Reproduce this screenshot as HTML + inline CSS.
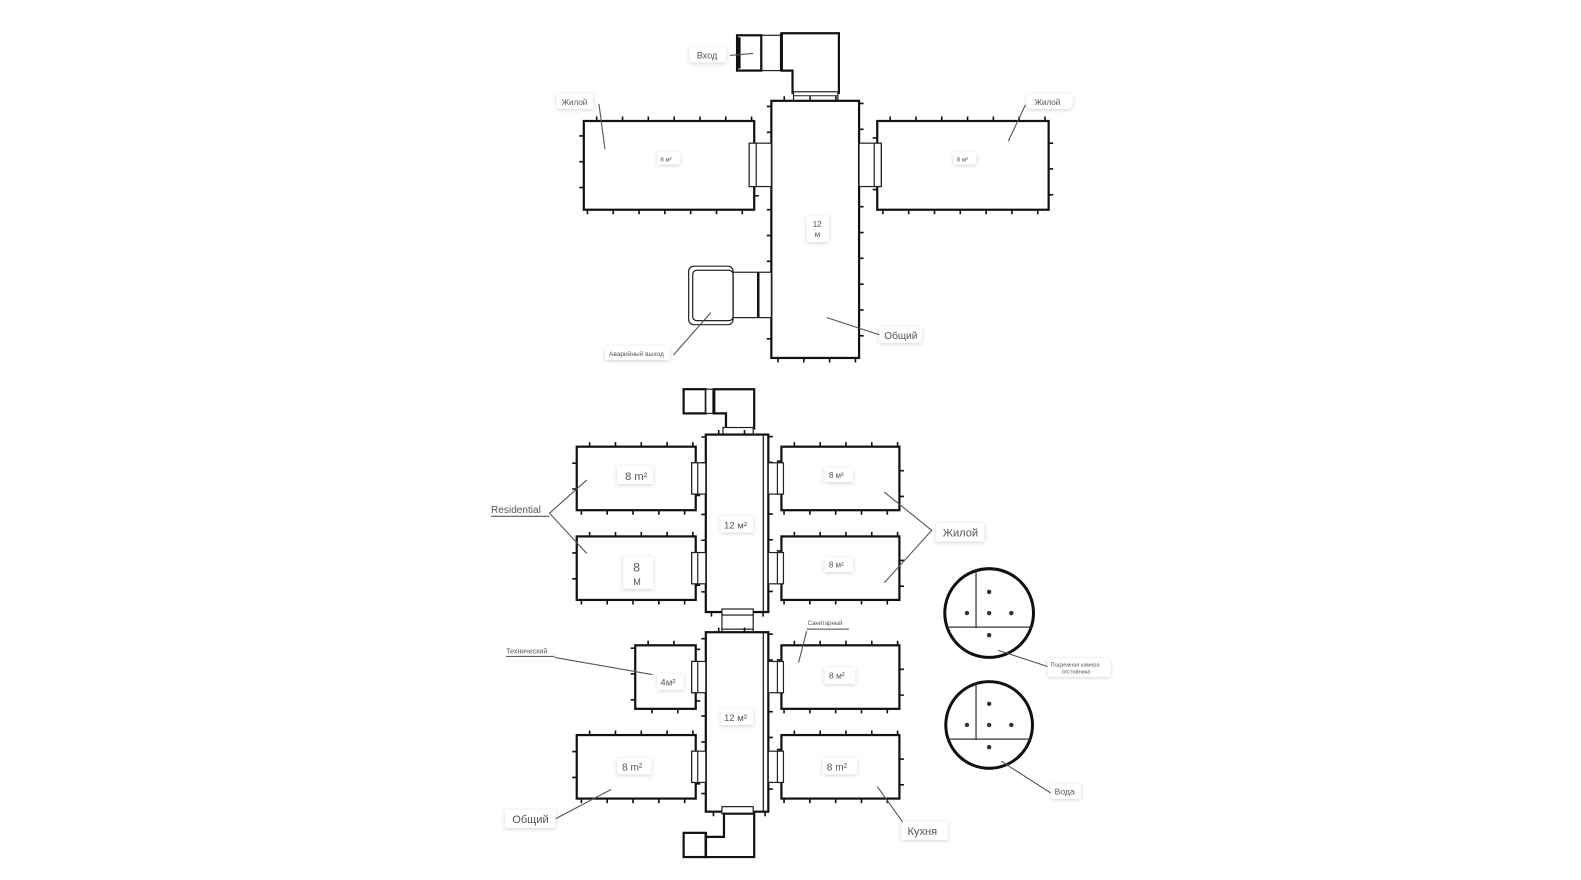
<!DOCTYPE html>
<html><head><meta charset="utf-8"><style>
html,body{margin:0;padding:0;background:#fff;}
svg{display:block;}
text{font-family:"Liberation Sans","DejaVu Sans",sans-serif;fill:#555;}
.w{fill:#fff;stroke:#111;stroke-width:2.2;}
.t{fill:none;stroke:#111;stroke-width:9;stroke-dasharray:1.6 24;stroke-dashoffset:-12;}
.d{fill:#fff;stroke:#222;stroke-width:1.2;}
.l{stroke:#555;stroke-width:1.1;fill:none;}
.lb{fill:#fff;filter:url(#sh);}
</style></head><body>
<svg width="1581" height="880" viewBox="0 0 1581 880" xmlns="http://www.w3.org/2000/svg">
<defs><filter id="sh" x="-30%" y="-50%" width="160%" height="200%"><feDropShadow dx="0" dy="1" stdDeviation="2" flood-color="#000" flood-opacity="0.18"/></filter></defs>
<g transform="scale(1.0083)">

<!-- ===== TOP PLAN ===== -->
<rect class="d" x="755" y="35" width="20" height="35"/>
<rect class="w" x="731" y="35" width="24" height="35"/>
<line x1="733" y1="37" x2="733" y2="68" stroke="#111" stroke-width="3"/>
<polygon class="w" points="775,33 832,33 832,92 786,92 786,70 775,70"/>
<line x1="775" y1="33" x2="775" y2="70" stroke="#111" stroke-width="3"/>
<rect class="d" x="787" y="91" width="44" height="10"/>
<line x1="787" y1="95" x2="831" y2="95" stroke="#222" stroke-width="1"/>
<rect class="t" x="765" y="100" width="87" height="255"/>
<rect class="w" x="765" y="100" width="87" height="255"/>
<rect class="t" x="579" y="120" width="169" height="88"/>
<rect class="w" x="579" y="120" width="169" height="88"/>
<rect class="d" x="743" y="142" width="22" height="43"/>
<rect class="d" x="743" y="142" width="7" height="43" stroke-width="2"/>
<rect class="t" x="870" y="120" width="170" height="88"/>
<rect class="w" x="870" y="120" width="170" height="88"/>
<rect class="d" x="852" y="142" width="22" height="43"/>
<rect class="d" x="867" y="142" width="7" height="43" stroke-width="2"/>
<rect class="d" x="727" y="270" width="38" height="45"/>
<line x1="752" y1="270" x2="752" y2="315" stroke="#111" stroke-width="2.5"/>
<rect class="d" x="683" y="264" width="44" height="58" rx="5"/>
<rect class="d" x="687" y="268" width="40" height="50" rx="4"/>

<line class="l" x1="724" y1="55" x2="747" y2="53"/>
<rect class="lb" x="684" y="47" width="36" height="15" rx="2"/>
<text x="691" y="58" font-size="9">Вход</text>
<line class="l" x1="594" y1="103" x2="600" y2="148"/>
<rect class="lb" x="552" y="93" width="36" height="15" rx="2"/>
<text x="557" y="104" font-size="8">Жилой</text>
<line class="l" x1="1017" y1="104" x2="1000" y2="140"/>
<rect class="lb" x="1018" y="93" width="46" height="15" rx="6"/>
<text x="1026" y="104" font-size="8">Жилой</text>
<rect class="lb" x="652" y="151" width="22" height="12"/>
<text x="655" y="160" font-size="6">8 м²</text>
<rect class="lb" x="946" y="151" width="22" height="12"/>
<text x="949" y="160" font-size="6">8 м²</text>
<rect class="lb" x="800" y="214" width="22" height="26"/>
<text x="806" y="225" font-size="8">12</text>
<text x="808" y="235" font-size="8">м</text>
<line class="l" x1="820" y1="315" x2="872" y2="332"/>
<rect class="lb" x="872" y="324" width="42" height="16" rx="2"/>
<text x="877" y="336" font-size="10">Общий</text>
<line class="l" x1="705" y1="310" x2="668" y2="352"/>
<rect class="lb" x="600" y="343" width="64" height="14" rx="2"/>
<text x="604" y="353" font-size="6.5">Аварийный выход</text>

<!-- ===== BOTTOM PLAN ===== -->
<rect class="w" x="678" y="386" width="22" height="24"/>
<rect class="d" x="700" y="386" width="8" height="24"/>
<polygon class="w" points="708,386 748,386 748,425 720,425 720,410 708,410"/>
<line x1="708" y1="386" x2="708" y2="410" stroke="#111" stroke-width="3"/>
<rect class="d" x="717" y="424" width="30" height="8" stroke-width="2"/>
<rect class="t" x="700" y="431" width="62" height="176"/>
<rect class="w" x="700" y="431" width="62" height="176"/>
<line x1="757" y1="432" x2="757" y2="606" stroke="#111" stroke-width="1.2"/>
<rect class="d" x="716" y="607" width="31" height="20"/>
<rect class="d" x="716" y="604" width="31" height="6" stroke-width="2"/>
<rect class="d" x="716" y="624" width="31" height="6" stroke-width="2"/>
<rect class="t" x="700" y="627" width="62" height="178"/>
<rect class="w" x="700" y="627" width="62" height="178"/>
<line x1="757" y1="628" x2="757" y2="804" stroke="#111" stroke-width="1.2"/>
<rect class="d" x="716" y="800" width="31" height="7" stroke-width="2"/>
<polygon class="w" points="718,807 748,807 748,850 700,850 700,830 718,830"/>
<rect class="w" x="678" y="826" width="22" height="24"/>
<line x1="700" y1="826" x2="700" y2="850" stroke="#111" stroke-width="2.5"/>

<g>
<rect class="t" x="572" y="443" width="118" height="63"/><rect class="w" x="572" y="443" width="118" height="63"/>
<rect class="t" x="572" y="532" width="118" height="63"/><rect class="w" x="572" y="532" width="118" height="63"/>
<rect class="t" x="630" y="640" width="60" height="63"/><rect class="w" x="630" y="640" width="60" height="63"/>
<rect class="t" x="572" y="729" width="118" height="63"/><rect class="w" x="572" y="729" width="118" height="63"/>
</g>
<g>
<rect class="t" x="775" y="443" width="117" height="63"/><rect class="w" x="775" y="443" width="117" height="63"/>
<rect class="t" x="775" y="532" width="117" height="63"/><rect class="w" x="775" y="532" width="117" height="63"/>
<rect class="t" x="775" y="640" width="117" height="63"/><rect class="w" x="775" y="640" width="117" height="63"/>
<rect class="t" x="775" y="729" width="117" height="63"/><rect class="w" x="775" y="729" width="117" height="63"/>
</g>
<g>
<rect class="d" x="686" y="459" width="14" height="31"/><rect class="d" x="686" y="459" width="6" height="31" stroke-width="2"/>
<rect class="d" x="686" y="548" width="14" height="31"/><rect class="d" x="686" y="548" width="6" height="31" stroke-width="2"/>
<rect class="d" x="686" y="656" width="14" height="31"/><rect class="d" x="686" y="656" width="6" height="31" stroke-width="2"/>
<rect class="d" x="686" y="745" width="14" height="31"/><rect class="d" x="686" y="745" width="6" height="31" stroke-width="2"/>
<rect class="d" x="762" y="459" width="14" height="31"/><rect class="d" x="771" y="459" width="6" height="31" stroke-width="2"/>
<rect class="d" x="762" y="548" width="14" height="31"/><rect class="d" x="771" y="548" width="6" height="31" stroke-width="2"/>
<rect class="d" x="762" y="656" width="14" height="31"/><rect class="d" x="771" y="656" width="6" height="31" stroke-width="2"/>
<rect class="d" x="762" y="745" width="14" height="31"/><rect class="d" x="771" y="745" width="6" height="31" stroke-width="2"/>
</g>

<g>
<circle cx="981" cy="608" r="44" fill="#fff" stroke="#111" stroke-width="3"/>
<line x1="968" y1="565" x2="968" y2="623" stroke="#333" stroke-width="1.2"/>
<line x1="939" y1="622" x2="1023" y2="622" stroke="#333" stroke-width="1.2"/>
<circle cx="981" cy="587" r="2.2" fill="#333"/><circle cx="959" cy="608" r="2.2" fill="#333"/>
<circle cx="981" cy="608" r="2.2" fill="#333"/><circle cx="1003" cy="608" r="2.2" fill="#333"/>
<circle cx="981" cy="630" r="2.2" fill="#333"/>
<circle cx="981" cy="719" r="43" fill="#fff" stroke="#111" stroke-width="3"/>
<line x1="968" y1="677" x2="968" y2="734" stroke="#333" stroke-width="1.2"/>
<line x1="940" y1="733" x2="1022" y2="733" stroke="#333" stroke-width="1.2"/>
<circle cx="981" cy="698" r="2.2" fill="#333"/><circle cx="959" cy="719" r="2.2" fill="#333"/>
<circle cx="981" cy="719" r="2.2" fill="#333"/><circle cx="1003" cy="719" r="2.2" fill="#333"/>
<circle cx="981" cy="741" r="2.2" fill="#333"/>
</g>

<rect class="lb" x="612" y="462" width="36" height="18"/>
<text x="620" y="476" font-size="11" fill="#333">8 m²</text>
<rect class="lb" x="618" y="552" width="30" height="32"/>
<text x="628" y="567" font-size="12" fill="#333">8</text>
<text x="628" y="580" font-size="9" fill="#333">M</text>
<rect class="lb" x="715" y="512" width="32" height="16"/>
<text x="718" y="524" font-size="9.5" fill="#333">12 м²</text>
<rect class="lb" x="818" y="464" width="28" height="14"/>
<text x="822" y="474" font-size="8">8 м²</text>
<rect class="lb" x="818" y="553" width="28" height="14"/>
<text x="822" y="563" font-size="8">8 м²</text>
<rect class="lb" x="652" y="668" width="26" height="16"/>
<text x="655" y="680" font-size="9.5" fill="#333">4м²</text>
<rect class="lb" x="715" y="703" width="32" height="16"/>
<text x="718" y="715" font-size="9.5" fill="#333">12 м²</text>
<rect class="lb" x="818" y="662" width="30" height="16"/>
<text x="822" y="673" font-size="8.5">8 м²</text>
<rect class="lb" x="612" y="752" width="34" height="16"/>
<text x="617" y="764" font-size="10" fill="#333">8 m²</text>
<rect class="lb" x="816" y="752" width="34" height="16"/>
<text x="820" y="764" font-size="10" fill="#333">8 m²</text>

<text x="487" y="509" font-size="10" fill="#333">Residential</text>
<line x1="487" y1="512" x2="545" y2="512" stroke="#444" stroke-width="1"/>
<polyline class="l" points="582,476 545,509 582,549"/>
<polyline class="l" points="877,488 924,526 877,578"/>
<rect class="lb" x="928" y="519" width="48" height="18" rx="2"/>
<text x="935" y="532" font-size="11">Жилой</text>

<text x="502" y="648" font-size="7">Технический</text>
<line x1="502" y1="651" x2="550" y2="651" stroke="#444" stroke-width="1"/>
<line class="l" x1="550" y1="652" x2="647" y2="669"/>
<text x="801" y="620" font-size="6">Санитарный</text>
<line x1="800" y1="624" x2="842" y2="624" stroke="#444" stroke-width="1"/>
<line class="l" x1="800" y1="626" x2="792" y2="657"/>
<line class="l" x1="990" y1="645" x2="1045" y2="663"/>
<rect class="lb" x="1039" y="653" width="62" height="18" rx="2"/>
<text x="1042" y="661" font-size="5.5">Подземная камера</text>
<text x="1053" y="668" font-size="5.5">отстойника</text>
<line class="l" x1="993" y1="755" x2="1043" y2="787"/>
<rect class="lb" x="1042" y="777" width="30" height="15" rx="2"/>
<text x="1046" y="788" font-size="8.5">Вода</text>
<line class="l" x1="606" y1="783" x2="551" y2="812"/>
<rect class="lb" x="501" y="803" width="50" height="18" rx="2"/>
<text x="508" y="816" font-size="11">Общий</text>
<line class="l" x1="870" y1="780" x2="900" y2="822"/>
<rect class="lb" x="894" y="815" width="46" height="18" rx="2"/>
<text x="900" y="828" font-size="11">Кухня</text>
</g>
</svg>
</body></html>
